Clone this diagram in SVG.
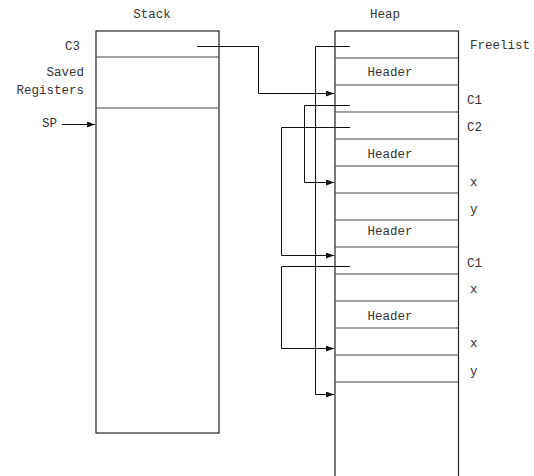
<svg xmlns="http://www.w3.org/2000/svg" width="534" height="476" viewBox="0 0 534 476">
<style>
.box{fill:#fff;stroke:#222;stroke-width:1.2}
.div{stroke:#444;stroke-width:1.2}
.t{font-family:"Liberation Mono","Courier New",monospace;font-size:12.5px;fill:#333;dominant-baseline:central}
.c{fill:none;stroke:#111;stroke-width:1}
</style>
<defs>
<marker id="ah" markerWidth="8" markerHeight="6" refX="8" refY="3" orient="auto" markerUnits="userSpaceOnUse">
<path d="M0,0 L8,3 L0,6 Z" fill="#111"/>
</marker>
</defs>
<rect width="534" height="476" fill="#fff"/>
<g id="stack">
<text class="t" x="152" y="15" text-anchor="middle">Stack</text>
<rect class="box" x="96" y="31" width="123" height="402"/>
<line class="div" x1="96" y1="57" x2="219" y2="57"/>
<line class="div" x1="96" y1="108" x2="219" y2="108"/>
<text class="t" x="80" y="47" text-anchor="end">C3</text>
<text class="t" x="84" y="73" text-anchor="end">Saved</text>
<text class="t" x="84" y="91" text-anchor="end">Registers</text>
<text class="t" x="57" y="124" text-anchor="end">SP</text>
</g>
<g id="heap">
<text class="t" x="385" y="15" text-anchor="middle">Heap</text>
<rect class="box" x="335" y="31" width="123.5" height="460"/>
<line class="div" x1="335" y1="58" x2="458.5" y2="58"/>
<line class="div" x1="335" y1="85" x2="458.5" y2="85"/>
<line class="div" x1="335" y1="112" x2="458.5" y2="112"/>
<line class="div" x1="335" y1="139" x2="458.5" y2="139"/>
<line class="div" x1="335" y1="166" x2="458.5" y2="166"/>
<line class="div" x1="335" y1="193" x2="458.5" y2="193"/>
<line class="div" x1="335" y1="220" x2="458.5" y2="220"/>
<line class="div" x1="335" y1="247" x2="458.5" y2="247"/>
<line class="div" x1="335" y1="274" x2="458.5" y2="274"/>
<line class="div" x1="335" y1="301" x2="458.5" y2="301"/>
<line class="div" x1="335" y1="328" x2="458.5" y2="328"/>
<line class="div" x1="335" y1="355" x2="458.5" y2="355"/>
<line class="div" x1="335" y1="382" x2="458.5" y2="382"/>
<text class="t" x="390" y="73" text-anchor="middle">Header</text>
<text class="t" x="390" y="155" text-anchor="middle">Header</text>
<text class="t" x="390" y="232" text-anchor="middle">Header</text>
<text class="t" x="390" y="317" text-anchor="middle">Header</text>
<text class="t" x="470" y="46">Freelist</text>
<text class="t" x="467" y="101">C1</text>
<text class="t" x="467" y="128">C2</text>
<text class="t" x="470" y="183">x</text>
<text class="t" x="470" y="210">y</text>
<text class="t" x="467" y="264">C1</text>
<text class="t" x="470" y="290">x</text>
<text class="t" x="470" y="344">x</text>
<text class="t" x="470" y="372">y</text>
</g>
<g id="connectors">
<path class="c" d="M62,124.5 H95" marker-end="url(#ah)"/>
<path class="c" d="M197,46.5 H258.5 V93.5 H334" marker-end="url(#ah)"/>
<path class="c" d="M350,46.5 H315.5 V394.5 H334" marker-end="url(#ah)"/>
<path class="c" d="M350,105.5 H304.5 V182.5 H334" marker-end="url(#ah)"/>
<path class="c" d="M350,127.5 H281.5 V255.5 H334" marker-end="url(#ah)"/>
<path class="c" d="M350,266.5 H281.5 V348.5 H334" marker-end="url(#ah)"/>
</g>
</svg>
